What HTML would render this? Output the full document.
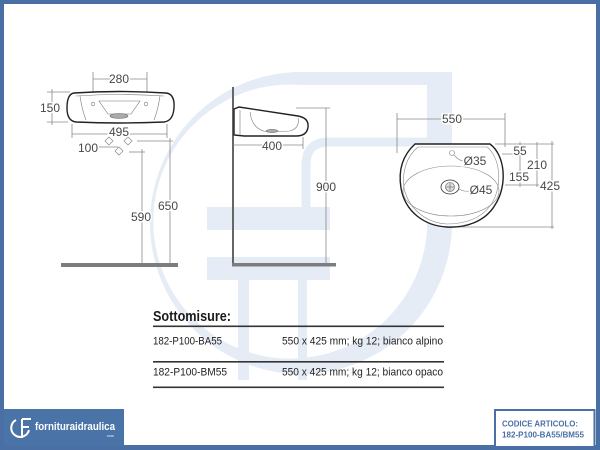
<!DOCTYPE html>
<html><head><meta charset="utf-8"><style>
html,body{margin:0;padding:0;background:#fff;}
svg{display:block;}
text{font-family:"Liberation Sans",Arial,sans-serif;}
</style></head><body>
<svg width="600" height="450" viewBox="0 0 600 450" xmlns="http://www.w3.org/2000/svg">
<!-- frame -->
<rect x="0" y="0" width="600" height="450" fill="#4a6fa5"/>
<rect x="4" y="4" width="592" height="441" fill="#ffffff"/>

<!-- watermark -->
<g fill="#e5ecf6" stroke="none">
  <path d="M301,72 L452,72 L452,222 A151,151 0 1 1 301,72 Z M301,85 A137,137 0 1 0 427,230 L427,85 Z" fill-rule="evenodd"/>
  <rect x="207" y="207" width="123" height="23"/>
  <rect x="207" y="257" width="123" height="23"/>
  <rect x="238" y="280" width="11" height="100"/>
  <rect x="298" y="280" width="9" height="100"/>
</g>
<path d="M306,207 L306,165 Q306,142 329,142 L427,142" fill="none" stroke="#e5ecf6" stroke-width="9"/>

<!-- ===== FRONT VIEW ===== -->
<g stroke="#8a8a8a" stroke-width="0.8" fill="none">
  <line x1="93" y1="72" x2="93" y2="96"/>
  <line x1="147" y1="72" x2="147" y2="96"/>
  <line x1="93" y1="79" x2="147" y2="79"/>
  <line x1="47" y1="92" x2="70" y2="92"/>
  <line x1="47" y1="122" x2="68" y2="122"/>
  <line x1="52" y1="89" x2="52" y2="125"/>
  <line x1="72" y1="124" x2="72" y2="138"/>
  <line x1="167" y1="124" x2="167" y2="138"/>
  <line x1="72" y1="134" x2="167" y2="134"/>
  <line x1="99" y1="147" x2="118" y2="147"/>
  <line x1="137" y1="141" x2="173" y2="141"/>
  <line x1="170" y1="138" x2="170" y2="265"/>
  <line x1="129" y1="152" x2="145" y2="152"/>
  <line x1="142" y1="149" x2="142" y2="265"/>
</g>
<path d="M74,93 Q119,90 166,93 Q175,94 174,108 Q173,121 164,122 Q119,124 76,122 Q67,121 67,108 Q67,94 74,93 Z" fill="#fff" stroke="#222" stroke-width="1.4"/>
<g stroke="#777" stroke-width="0.6" fill="none">
  <path d="M76,96 Q119,93 164,96"/>
  <path d="M80,96 Q82,110 86,120"/>
  <path d="M160,96 Q158,110 154,120"/>
  <path d="M99,101 L140,101 L131,114 L108,114 Z"/>
  <circle cx="93" cy="104" r="1.8"/>
  <circle cx="146" cy="104" r="1.8"/>
</g>
<ellipse cx="119" cy="116" rx="9" ry="2.5" fill="#aaa" stroke="#666" stroke-width="0.6"/>
<g stroke="#888" stroke-width="0.7" fill="#fff">
  <polygon points="109,137 113,141 109,145 105,141"/>
  <polygon points="128,137 132,141 128,145 124,141"/>
  <polygon points="119,147 123,151 119,155 115,151"/>
</g>
<rect x="61" y="263" width="117" height="4" fill="#7d7d7d"/>

<!-- ===== SIDE VIEW ===== -->
<line x1="233" y1="87" x2="233" y2="265" stroke="#666" stroke-width="2"/>
<rect x="232" y="263" width="104" height="3.5" fill="#7d7d7d"/>
<g stroke="#8a8a8a" stroke-width="0.8" fill="none">
  <line x1="233" y1="145" x2="303" y2="145"/>
  <line x1="303" y1="137" x2="303" y2="149"/>
  <line x1="296" y1="108" x2="330" y2="108"/>
  <line x1="326" y1="108" x2="326" y2="265"/>
</g>
<path d="M234,109 L239,107 L298,116 Q309,118 308,127 Q307,136 296,136 L244,136 L234,135 Z" fill="#fff" stroke="#222" stroke-width="1.4"/>
<g stroke="#777" stroke-width="0.6" fill="none">
  <path d="M250,112 Q252,130 268,132 L290,131 Q300,128 298,118"/>
  <line x1="240" y1="110" x2="240" y2="135"/>
</g>
<ellipse cx="272" cy="131" rx="6" ry="1.6" fill="#aaa" stroke="#666" stroke-width="0.5"/>

<!-- ===== TOP VIEW ===== -->
<g stroke="#8a8a8a" stroke-width="0.8" fill="none">
  <line x1="397" y1="119" x2="505" y2="119"/>
  <line x1="397" y1="113" x2="397" y2="153"/>
  <line x1="505" y1="113" x2="505" y2="147"/>
  <line x1="495" y1="144" x2="554" y2="144"/>
  <line x1="502" y1="154" x2="523" y2="154"/>
  <line x1="505" y1="185" x2="539" y2="185"/>
  <line x1="448" y1="227" x2="554" y2="227"/>
  <line x1="520" y1="142" x2="520" y2="187"/>
  <line x1="537" y1="142" x2="537" y2="187"/>
  <line x1="552" y1="141" x2="552" y2="229"/>
</g>
<path d="M415,144 L490,144 C505,155 508,185 495,205 C485,222 465,228 447,227 C425,226 405,212 401,188 C398,170 403,155 415,144 Z" fill="#fff" stroke="#222" stroke-width="1.4"/>
<g stroke="#888" stroke-width="0.6" fill="none">
  <path d="M418,147 L487,147 C500,157 503,185 492,203 C482,219 464,224 447,224 C427,223 409,210 404,188 C402,172 406,157 418,147 Z"/>
  <ellipse cx="451" cy="191" rx="48" ry="25"/>
  <circle cx="452" cy="153" r="2.5"/>
  <path d="M454,155 Q460,162 466,161"/>
  <path d="M459,189 Q464,192 470,191"/>
</g>
<ellipse cx="450" cy="187" rx="9" ry="7" fill="#fff" stroke="#333" stroke-width="0.8"/>
<circle cx="450" cy="187" r="4.5" fill="#ddd" stroke="#555" stroke-width="0.6"/>
<line x1="446" y1="187" x2="454" y2="187" stroke="#555" stroke-width="0.5"/>
<line x1="450" y1="183" x2="450" y2="191" stroke="#555" stroke-width="0.5"/>

<!-- dimension labels -->
<g font-size="12" fill="#474747" text-anchor="middle" stroke="#fff" stroke-width="3" paint-order="stroke">
  <text x="119" y="83">280</text>
  <text x="50" y="112">150</text>
  <text x="119" y="136">495</text>
  <text x="88" y="152">100</text>
  <text x="168" y="210">650</text>
  <text x="141" y="221">590</text>
  <text x="272" y="150">400</text>
  <text x="326" y="191">900</text>
  <text x="452" y="123">550</text>
  <text x="520" y="155">55</text>
  <text x="537" y="169">210</text>
  <text x="519" y="181">155</text>
  <text x="550" y="190">425</text>
  <text x="475" y="165">Ø35</text>
  <text x="481" y="194">Ø45</text>
</g>

<!-- table -->
<text x="153" y="321" font-size="15" font-weight="bold" fill="#1a1a1a" textLength="78" lengthAdjust="spacingAndGlyphs">Sottomisure:</text>
<rect x="153" y="325.5" width="291" height="1.6" fill="#333"/>
<text x="153" y="344.5" font-size="11" fill="#222" textLength="69" lengthAdjust="spacingAndGlyphs">182-P100-BA55</text>
<text x="282" y="344.5" font-size="11" fill="#222" textLength="161" lengthAdjust="spacingAndGlyphs">550 x 425 mm; kg 12; bianco alpino</text>
<rect x="153" y="361" width="291" height="1.6" fill="#333"/>
<text x="153" y="375.5" font-size="11" fill="#222" textLength="74" lengthAdjust="spacingAndGlyphs">182-P100-BM55</text>
<text x="282" y="375.5" font-size="11" fill="#222" textLength="161" lengthAdjust="spacingAndGlyphs">550 x 425 mm; kg 12; bianco opaco</text>
<rect x="153" y="386.5" width="291" height="1.6" fill="#333"/>

<!-- logo box -->
<rect x="4" y="409" width="120" height="37" fill="#4a73a8"/>
<g stroke="#fff" stroke-width="2" fill="none">
  <path d="M16,420 A9,9 0 1 0 29,430"/>
  <path d="M22,419 L31,419 M22,419 L22,438 M22,427 L29,427"/>
</g>
<text x="35" y="430" font-size="11" font-weight="bold" fill="#fff" textLength="80" lengthAdjust="spacingAndGlyphs">fornituraidraulica</text>
<text x="110" y="437" font-size="3.5" fill="#fff" text-anchor="middle">.com</text>

<!-- code box -->
<rect x="495" y="410" width="99.5" height="37" fill="#fff" stroke="#4a6fa5" stroke-width="2"/>
<text x="502" y="426.5" font-size="8.5" font-weight="bold" fill="#4a6fa5" textLength="76" lengthAdjust="spacingAndGlyphs">CODICE ARTICOLO:</text>
<text x="502" y="437.5" font-size="8.5" font-weight="bold" fill="#4a6fa5" textLength="82" lengthAdjust="spacingAndGlyphs">182-P100-BA55/BM55</text>
</svg>
</body></html>
